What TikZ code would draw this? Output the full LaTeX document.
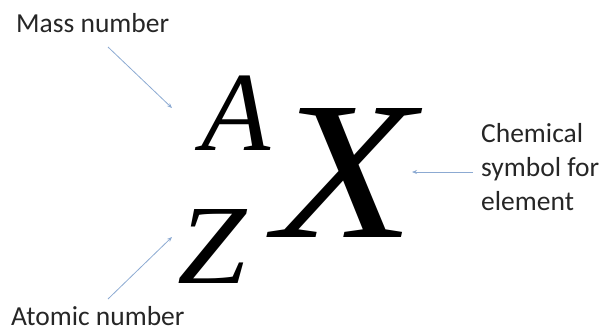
\documentclass[tikz,border=0pt]{standalone}
\usepackage{fontspec}
\setmainfont{Carlito}
\newfontfamily\letterfont{Liberation Serif}
\usetikzlibrary{arrows.meta}
\definecolor{arrowblue}{RGB}{140,170,210}
\tikzset{
  lbl/.style={inner sep=0pt, font=\fontsize{27.5}{34}\selectfont, text=black!85},
  bigletter/.style={inner sep=0pt, font=\letterfont\itshape\fontsize{113}{113}\selectfont},
  hugeletter/.style={inner sep=0pt, font=\letterfont\itshape\fontsize{197}{197}\selectfont},
  pointer/.style={draw=arrowblue, line width=0.8pt, -{Stealth[length=5pt,width=4pt]}}
}
\begin{document}
\begin{tikzpicture}[x=1pt,y=-1pt]
\useasboundingbox (0,0) rectangle (604,330);
\node[lbl, anchor=base west] (mass) at (16,32) {Mass number};
\node[lbl, anchor=base west] (atomic) at (11,325) {Atomic number};
\node[lbl, anchor=base west, align=left] (chem) at (481,210) {Chemical\\symbol for\\element};
\node[bigletter, anchor=base west] (A) at (201,150) {A};
\node[bigletter, anchor=base west] (Z) at (177,283) {\scalebox{1.1}[1]{Z}};
\node[hugeletter, anchor=base west] (X) at (274,237) {\scalebox{1.17}[1]{X}};
\coordinate (m1) at (108,47);
\coordinate (m2) at (172,108);
\coordinate (a1) at (108,299);
\coordinate (a2) at (172,237);
\coordinate (c1) at (473,172);
\coordinate (c2) at (412,172);
\draw[pointer] (m1) -- (m2);
\draw[pointer] (a1) -- (a2);
\draw[pointer] (c1) -- (c2);
\end{tikzpicture}
\end{document}
